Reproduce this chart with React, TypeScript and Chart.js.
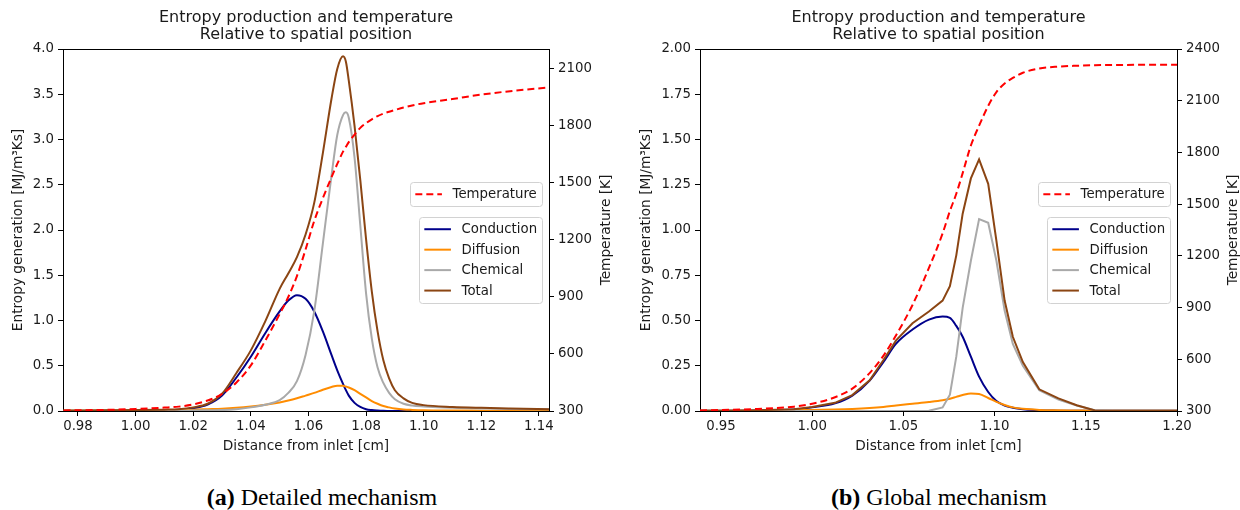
import React, { useEffect, useRef } from "react";
import { Chart, registerables } from "chart.js";

Chart.register(...registerables);

const FONT = "'DejaVu Sans', sans-serif";
const INK = "#1a1a1a";
const FS = 13.3;
const FS_LABEL = 13.7;

// ---------- (a) Detailed mechanism ----------
const xA = [0.975, 0.99, 1.0, 1.01, 1.015, 1.02, 1.025, 1.03, 1.035, 1.04, 1.045, 1.05, 1.053, 1.056, 1.059, 1.062, 1.065, 1.068, 1.07, 1.072, 1.073, 1.074, 1.076, 1.078, 1.08, 1.082, 1.084, 1.086, 1.088, 1.09, 1.093, 1.096, 1.1, 1.11, 1.12, 1.13, 1.144];
const tempA = [303, 306, 311, 318, 323, 335, 355, 390, 450, 540, 670, 810, 900, 1010, 1150, 1300, 1420, 1530, 1600, 1665, 1690, 1715, 1755, 1790, 1815, 1835, 1852, 1865, 1875, 1884, 1897, 1908, 1920, 1942, 1965, 1983, 2003];
const totalA = [0.005, 0.008, 0.01, 0.015, 0.02, 0.04, 0.08, 0.19, 0.42, 0.67, 0.99, 1.35, 1.52, 1.7, 1.95, 2.3, 2.85, 3.45, 3.78, 3.92, 3.86, 3.65, 3.15, 2.55, 1.9, 1.32, 0.88, 0.56, 0.36, 0.23, 0.14, 0.09, 0.065, 0.045, 0.035, 0.028, 0.02];
const chemA = [0.002, 0.003, 0.004, 0.005, 0.005, 0.006, 0.008, 0.01, 0.02, 0.04, 0.07, 0.12, 0.2, 0.33, 0.62, 1.1, 1.85, 2.6, 3.05, 3.27, 3.3, 3.24, 2.8, 2.05, 1.3, 0.8, 0.48, 0.31, 0.2, 0.13, 0.08, 0.06, 0.05, 0.035, 0.028, 0.022, 0.018];
const condA = [0, 0.002, 0.005, 0.01, 0.015, 0.03, 0.07, 0.17, 0.37, 0.6, 0.86, 1.1, 1.22, 1.28, 1.24, 1.1, 0.88, 0.62, 0.45, 0.3, 0.23, 0.17, 0.09, 0.045, 0.02, 0.01, 0.005, 0.002, 0.001, 0, 0, 0, 0, 0, 0, 0, 0];
const diffA = [0.003, 0.005, 0.007, 0.01, 0.012, 0.015, 0.02, 0.025, 0.035, 0.05, 0.07, 0.095, 0.115, 0.14, 0.17, 0.2, 0.235, 0.265, 0.28, 0.278, 0.27, 0.26, 0.23, 0.19, 0.15, 0.11, 0.08, 0.055, 0.04, 0.028, 0.017, 0.012, 0.008, 0.005, 0.004, 0.003, 0.002];
const xTicksA = [0.98, 1.0, 1.02, 1.04, 1.06, 1.08, 1.1, 1.12, 1.14];
const yTicksA = [0, 0.5, 1, 1.5, 2, 2.5, 3, 3.5, 4];
const tTicksA = [300, 600, 900, 1200, 1500, 1800, 2100];

// ---------- (b) Global mechanism ----------
const xB = [0.9385, 0.95, 0.97, 0.99, 1.0, 1.0125, 1.022, 1.0315, 1.039, 1.046, 1.055, 1.064, 1.0715, 1.0755, 1.079, 1.0825, 1.087, 1.0915, 1.0965, 1.101, 1.1055, 1.11, 1.1155, 1.1245, 1.135, 1.145, 1.155, 1.165, 1.18, 1.2];
const tempB = [303, 306, 312, 325, 342, 380, 430, 520, 620, 740, 915, 1130, 1330, 1460, 1560, 1680, 1840, 1955, 2070, 2150, 2200, 2232, 2262, 2287, 2298, 2303, 2306, 2307, 2308, 2308];
const totalB = [0.002, 0.002, 0.004, 0.01, 0.022, 0.045, 0.088, 0.17, 0.28, 0.39, 0.485, 0.55, 0.61, 0.69, 0.86, 1.09, 1.285, 1.39, 1.255, 0.94, 0.61, 0.41, 0.27, 0.12, 0.07, 0.032, 0.003, 0.001, 0.001, 0.001];
const chemB = [0, 0, 0, 0, 0, 0, 0, 0, 0, 0, 0, 0.001, 0.02, 0.09, 0.3, 0.57, 0.83, 1.06, 1.04, 0.83, 0.555, 0.37, 0.25, 0.115, 0.063, 0.03, 0.004, 0.001, 0.001, 0.001];
const condB = [0.001, 0.001, 0.003, 0.008, 0.02, 0.042, 0.085, 0.168, 0.27, 0.372, 0.45, 0.505, 0.522, 0.515, 0.47, 0.41, 0.3, 0.19, 0.105, 0.055, 0.03, 0.018, 0.01, 0.004, 0.002, 0.001, 0.001, 0.001, 0.001, 0.001];
const diffB = [0.001, 0.001, 0.002, 0.004, 0.006, 0.008, 0.011, 0.016, 0.022, 0.03, 0.04, 0.05, 0.06, 0.068, 0.078, 0.088, 0.097, 0.094, 0.072, 0.05, 0.033, 0.02, 0.012, 0.006, 0.004, 0.003, 0.002, 0.002, 0.002, 0.002];
const xTicksB = [0.95, 1.0, 1.05, 1.1, 1.15, 1.2];
const yTicksB = [0, 0.25, 0.5, 0.75, 1, 1.25, 1.5, 1.75, 2];
const tTicksB = [300, 600, 900, 1200, 1500, 1800, 2100, 2400];

const TITLE = ["Entropy production and temperature", "Relative to spatial position"];
const COLORS = { temp: "#ff0000", cond: "#00008b", diff: "#ff8c00", chem: "#a9a9a9", total: "#8b4513" };
const DASH = [7, 4];

type Panel = {
  xs: number[]; temp: number[]; total: number[]; chem: number[]; cond: number[]; diff: number[];
  xMin: number; xMax: number; yMax: number; tMax: number;
  xTicks: number[]; yTicks: number[]; tTicks: number[]; yDigits: number; smoothPeaks: boolean;
  leftW: number; rightW: number; leftTitlePad: number; rightTitleX: number;
};

const PANEL_A: Panel = {
  xs: xA, temp: tempA, total: totalA, chem: chemA, cond: condA, diff: diffA,
  xMin: 0.9748, xMax: 1.1435, yMax: 4, tMax: 2205,
  xTicks: xTicksA, yTicks: yTicksA, tTicks: tTicksA, yDigits: 1, smoothPeaks: true,
  leftW: 63, rightW: 71, leftTitlePad: 10, rightTitleX: 606,
};
const PANEL_B: Panel = {
  xs: xB, temp: tempB, total: totalB, chem: chemB, cond: condB, diff: diffB,
  xMin: 0.9385, xMax: 1.2, yMax: 2, tMax: 2400,
  xTicks: xTicksB, yTicks: yTicksB, tTicks: tTicksB, yDigits: 2, smoothPeaks: false,
  leftW: 80, rightW: 63, leftTitlePad: 18, rightTitleX: 613,
};

type Item = { label: string; color: string; dash?: number[] };

function drawLegend(ctx: CanvasRenderingContext2D, right: number, top: number, items: Item[]) {
  const em = FS;
  ctx.font = `${FS}px ${FONT}`;
  const tw = Math.max(...items.map((it) => ctx.measureText(it.label).width));
  const pad = 0.4 * em, hl = 2 * em, hp = 0.8 * em, rowH = 13.8, gap = 0.5 * em;
  const w = pad * 2 + hl + hp + tw;
  const h = pad * 2 + items.length * rowH + (items.length - 1) * gap;
  const left = Math.round(right - w);
  ctx.beginPath();
  (ctx as any).roundRect(left + 0.5, top + 0.5, Math.round(w), Math.round(h), 3);
  ctx.fillStyle = "rgba(255,255,255,0.8)";
  ctx.fill();
  ctx.strokeStyle = "#d2d2d2";
  ctx.lineWidth = 1;
  ctx.stroke();
  items.forEach((it, i) => {
    const cy = top + pad + rowH / 2 + i * (rowH + gap);
    ctx.beginPath();
    ctx.setLineDash(it.dash || []);
    ctx.strokeStyle = it.color;
    ctx.lineWidth = 2;
    ctx.moveTo(left + pad, cy);
    ctx.lineTo(left + pad + hl, cy);
    ctx.stroke();
    ctx.setLineDash([]);
    ctx.fillStyle = INK;
    ctx.textBaseline = "middle";
    ctx.textAlign = "left";
    ctx.fillText(it.label, left + pad + hl + hp, cy + 0.5);
  });
}

function buildConfig(p: Panel): any {
  const pts = (ys: number[]) => p.xs.map((x, i) => ({ x, y: ys[i] }));
  const line = (label: string, ys: number[], color: string, axis: string, smooth: boolean, dash?: number[]) => ({
    label,
    data: pts(ys),
    yAxisID: axis,
    borderColor: color,
    backgroundColor: color,
    borderWidth: 2,
    borderDash: dash || [],
    pointRadius: 0,
    fill: false,
    tension: 0,
    cubicInterpolationMode: smooth ? "monotone" : "default",
  });
  const tickFont = { family: FONT, size: FS };
  const titleFont = { family: FONT, size: FS_LABEL, lineHeight: 1.2 };
  const gridOpts = { drawOnChartArea: false, drawTicks: true, tickLength: 5, tickColor: "#000", color: "#000" };
  const borderOpts = { display: true, color: "#000", width: 1 };

  const overlay = {
    id: "overlay",
    afterDraw(chart: any) {
      const { ctx, chartArea: a } = chart;
      ctx.save();
      ctx.strokeStyle = "#000";
      ctx.lineWidth = 1;
      const y = Math.round(a.top) + 0.5;
      ctx.beginPath();
      ctx.moveTo(a.left, y);
      ctx.lineTo(a.right, y);
      ctx.stroke();
      // right axis label, reading bottom-to-top
      ctx.save();
      ctx.translate(p.rightTitleX, (a.top + a.bottom) / 2);
      ctx.rotate(-Math.PI / 2);
      ctx.font = `${FS_LABEL}px ${FONT}`;
      ctx.fillStyle = INK;
      ctx.textAlign = "center";
      ctx.textBaseline = "middle";
      ctx.fillText("Temperature [K]", 0, 0);
      ctx.restore();
      drawLegend(ctx, a.right - 6.7, 182, [{ label: "Temperature", color: COLORS.temp, dash: DASH }]);
      drawLegend(ctx, a.right - 6.7, 217, [
        { label: "Conduction", color: COLORS.cond },
        { label: "Diffusion", color: COLORS.diff },
        { label: "Chemical", color: COLORS.chem },
        { label: "Total", color: COLORS.total },
      ]);
      ctx.restore();
    },
  };

  return {
    type: "line",
    data: {
      datasets: [
        line("Temperature", p.temp, COLORS.temp, "y1", true, DASH),
        line("Total", p.total, COLORS.total, "y", p.smoothPeaks),
        line("Chemical", p.chem, COLORS.chem, "y", p.smoothPeaks),
        line("Diffusion", p.diff, COLORS.diff, "y", true),
        line("Conduction", p.cond, COLORS.cond, "y", true),
      ],
    },
    options: {
      responsive: false,
      animation: false,
      events: [],
      layout: { padding: 0 },
      plugins: {
        legend: { display: false },
        tooltip: { enabled: false },
        title: {
          display: true,
          text: TITLE,
          fullSize: false,
          color: INK,
          font: { family: FONT, size: 16, weight: "normal", lineHeight: 1.0625 },
          padding: { top: 9.5, bottom: 5.5 },
        },
      },
      scales: {
        x: {
          type: "linear",
          min: p.xMin,
          max: p.xMax,
          offset: false,
          afterBuildTicks: (s: any) => { s.ticks = p.xTicks.map((v) => ({ value: v })); },
          afterFit: (s: any) => { s.height = 59; },
          ticks: { font: tickFont, color: INK, padding: 3, maxRotation: 0, autoSkip: false, callback: (v: any) => Number(v).toFixed(2) },
          grid: gridOpts,
          border: borderOpts,
          title: { display: true, text: "Distance from inlet [cm]", color: INK, font: titleFont, padding: { top: 0, bottom: 15 } },
        },
        y: {
          type: "linear",
          position: "left",
          min: 0,
          max: p.yMax,
          afterBuildTicks: (s: any) => { s.ticks = p.yTicks.map((v) => ({ value: v })); },
          afterFit: (s: any) => { s.width = p.leftW; },
          ticks: { font: tickFont, color: INK, padding: 4, autoSkip: false, callback: (v: any) => Number(v).toFixed(p.yDigits) },
          grid: gridOpts,
          border: borderOpts,
          title: { display: true, text: "Entropy generation [MJ/m³Ks]", color: INK, font: titleFont, padding: { top: p.leftTitlePad, bottom: 0 } },
        },
        y1: {
          type: "linear",
          position: "right",
          min: 300,
          max: p.tMax,
          afterBuildTicks: (s: any) => { s.ticks = p.tTicks.map((v) => ({ value: v })); },
          afterFit: (s: any) => { s.width = p.rightW; },
          ticks: { font: tickFont, color: INK, padding: 4, autoSkip: false, callback: (v: any) => String(Math.round(Number(v))) },
          grid: gridOpts,
          border: borderOpts,
          title: { display: false },
        },
      },
    },
    plugins: [overlay],
  };
}

function PanelChart({ panel, left }: { panel: Panel; left: number }) {
  const ref = useRef<HTMLCanvasElement | null>(null);
  useEffect(() => {
    if (!ref.current) return;
    const chart = new Chart(ref.current, buildConfig(panel));
    return () => chart.destroy();
  }, [panel]);
  return (
    <canvas
      ref={ref}
      width={620}
      height={470}
      style={{ position: "absolute", left, top: 0, width: 620, height: 470 }}
    />
  );
}

const captionStyle: React.CSSProperties = {
  position: "absolute",
  top: 484,
  width: 400,
  textAlign: "center",
  fontFamily: "'Liberation Serif', 'Times New Roman', serif",
  fontSize: 24,
  lineHeight: "26px",
  color: "#000",
  whiteSpace: "nowrap",
};

export default function App() {
  return (
    <div style={{ position: "absolute", left: 0, top: 0, width: 1240, height: 510, background: "#fff", overflow: "hidden" }}>
      <PanelChart panel={PANEL_A} left={0} />
      <PanelChart panel={PANEL_B} left={620} />
      <div style={{ ...captionStyle, left: 322 - 200 }}>
        <b>(a)</b> Detailed mechanism
      </div>
      <div style={{ ...captionStyle, left: 939 - 200 }}>
        <b>(b)</b> Global mechanism
      </div>
    </div>
  );
}
